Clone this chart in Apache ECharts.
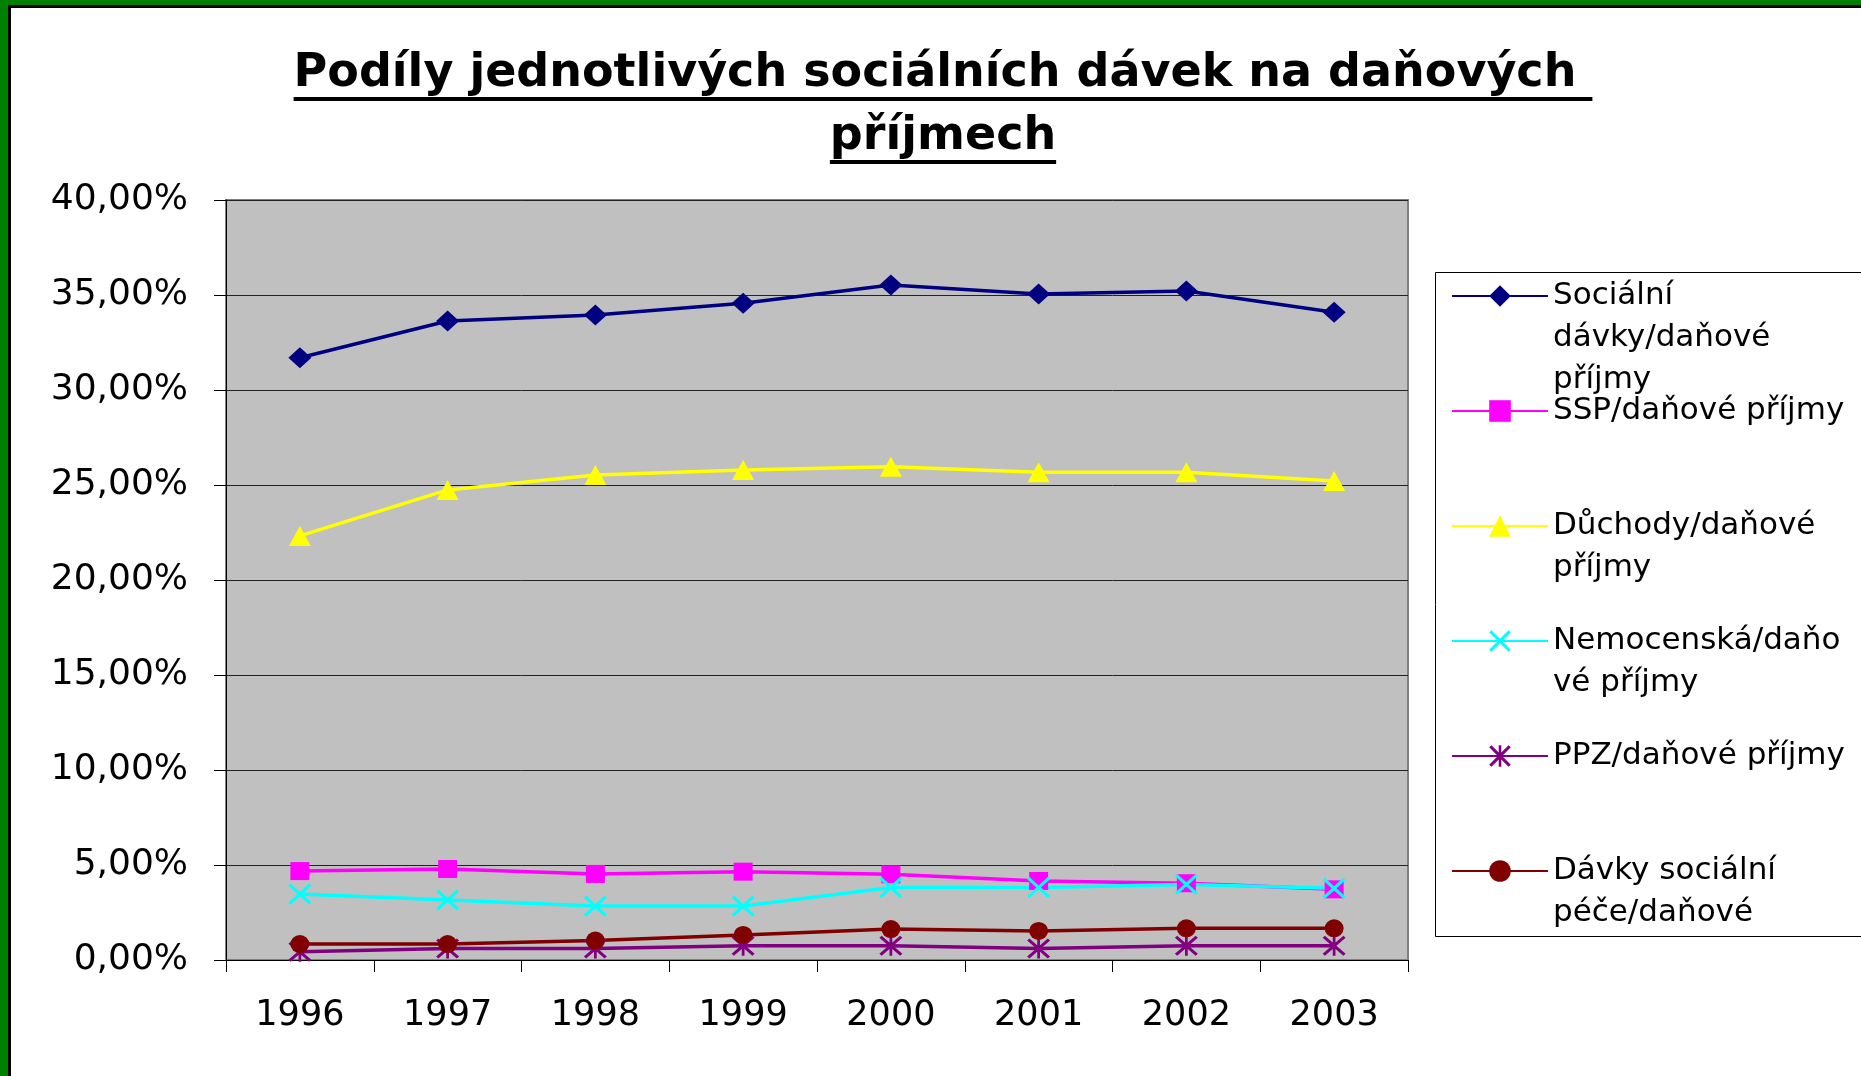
<!DOCTYPE html>
<html>
<head>
<meta charset="utf-8">
<script src="https://cdn.jsdelivr.net/npm/echarts@6/dist/echarts.min.js"></script>
<style>
  html, body { margin: 0; padding: 0; background: #fff; }
  #chart { width: 1861px; height: 1076px; }
</style>
</head>
<body>
<div id="chart"></div>
<script>
// data (percent of tax income)
const years = ['1996', '1997', '1998', '1999', '2000', '2001', '2002', '2003']
const socialBenefits = [31.70, 33.63, 33.95, 34.56, 35.53, 35.05, 35.21, 34.09]
const sspShare = [4.68, 4.79, 4.53, 4.65, 4.51, 4.16, 4.04, 3.72]
const pensionShare = [22.32, 24.74, 25.53, 25.79, 25.96, 25.67, 25.67, 25.21]
const sicknessShare = [3.47, 3.16, 2.84, 2.84, 3.81, 3.81, 3.98, 3.77]
const ppzShare = [0.44, 0.61, 0.61, 0.75, 0.75, 0.61, 0.75, 0.75]
const careShare = [0.84, 0.84, 1.02, 1.32, 1.63, 1.53, 1.67, 1.67]

const seriesNames = [
  'Sociální dávky/daňové příjmy',
  'SSP/daňové příjmy',
  'Důchody/daňové příjmy',
  'Nemocenská/daňové příjmy',
  'PPZ/daňové příjmy',
  'Dávky sociální péče/daňové příjmy'
]
// legend text as wrapped in the picture (last one is cut by the box)
const legendLabels = [
  'Sociální\ndávky/daňové\npříjmy',
  'SSP/daňové příjmy',
  'Důchody/daňové\npříjmy',
  'Nemocenská/daňo\nvé příjmy',
  'PPZ/daňové příjmy',
  'Dávky sociální\npéče/daňové'
]
const titleLines = ['Podíly jednotlivých sociálních dávek na daňových ', 'příjmech']

const FONT = 'DejaVu Sans'
const xMark = 'path://M0,1L1,0L5,4L9,0L10,1L6,5L10,9L9,10L5,6L1,10L0,9L4,5Z'
const starMark = xMark + 'M4.4,0L5.6,0L5.6,10L4.4,10Z'

const chart = echarts.init(document.getElementById('chart'))

// 标题下划线 (echarts title has no underline)
const titleX = 943
const titleTop = 43
const titleSize = 46
const ctx = document.createElement('canvas').getContext('2d')
ctx.font = `bold ${titleSize}px "${FONT}"`
const underlines = titleLines.map((line, i) => {
  const w = ctx.measureText(line).width
  return {
    type: 'rect',
    shape: {x: titleX - w / 2, y: titleTop + 54 + i * 63, width: w, height: 4},
    style: {fill: '#000'}
  }
})

const seriesData = [socialBenefits, sspShare, pensionShare, sicknessShare, ppzShare, careShare]
const colors = ['#000080', '#FF00FF', '#FFFF00', '#00FFFF', '#800080', '#800000']
const symbols = ['diamond', 'rect', 'triangle', xMark, starMark, 'circle']
const symbolSizes = [[23, 21], [19, 18], [22, 20], [23, 21], [23, 20], [19, 18]]

const series = seriesData.map((d, i) => ({
  name: seriesNames[i],
  type: 'line',
  data: d,
  symbol: symbols[i],
  symbolSize: symbolSizes[i],
  showAllSymbol: true,
  lineStyle: {color: colors[i], width: 3.5},
  itemStyle: {color: colors[i], borderWidth: 0},
  emphasis: {disabled: true}
}))

// one legend per item so the first text line sits on the icon
const LINE_H = 42
const legends = seriesNames.map((name, i) => {
  const n = legendLabels[i].split('\n').length
  const center = 296 + i * 115
  return {
    data: [name],
    orient: 'vertical',
    left: 1451,
    top: center - (2 * n - 1) * LINE_H / 2,
    padding: 0,
    itemWidth: 96,
    itemHeight: 27,
    lineStyle: {width: 2},
    selectedMode: false,
    textStyle: {fontFamily: FONT, fontSize: 31, lineHeight: LINE_H, color: '#000'},
    formatter: () => '\n'.repeat(n - 1) + legendLabels[i]
  }
})

const option = {
  animation: false,
  backgroundColor: '#fff',
  title: {
    text: titleLines.join('\n'),
    left: titleX,
    top: titleTop,
    padding: 0,
    textAlign: 'center',
    textStyle: {fontFamily: FONT, fontWeight: 'bold', fontSize: titleSize, lineHeight: 63, color: '#000'}
  },
  legend: legends,
  grid: {
    left: 226, right: 453, top: 200, bottom: 116,
    show: true,
    backgroundColor: '#C0C0C0',
    borderColor: '#808080',
    borderWidth: 2
  },
  xAxis: {
    type: 'category',
    data: years,
    boundaryGap: true,
    axisLine: {lineStyle: {color: '#000', width: 1}},
    axisTick: {show: true, length: 12, lineStyle: {color: '#000'}},
    axisLabel: {fontFamily: FONT, fontSize: 35, color: '#000', margin: 38}
  },
  yAxis: {
    type: 'value',
    min: 0,
    max: 40,
    interval: 5,
    axisLine: {show: true, lineStyle: {color: '#000', width: 1}},
    axisTick: {show: true, length: 12, lineStyle: {color: '#000'}},
    splitLine: {lineStyle: {color: '#222', width: 1}},
    axisLabel: {
      fontFamily: FONT, fontSize: 36, color: '#000', margin: 38,
      formatter: v => v.toFixed(2).replace('.', ',') + '%'
    }
  },
  graphic: [
    // frame: green band top/left with black inner line
    {type: 'rect', shape: {x: 0, y: 0, width: 1861, height: 5}, style: {fill: '#008000'}},
    {type: 'rect', shape: {x: 0, y: 0, width: 8, height: 1076}, style: {fill: '#008000'}},
    {type: 'rect', shape: {x: 8, y: 5, width: 1853, height: 3}, style: {fill: '#000'}},
    {type: 'rect', shape: {x: 8, y: 5, width: 3, height: 1071}, style: {fill: '#000'}},
    // legend box
    {type: 'rect', shape: {x: 1435.5, y: 272.5, width: 600, height: 664}, style: {fill: 'none', stroke: '#000', lineWidth: 1}},
    ...underlines
  ],
  series
}

chart.setOption(option)
</script>
</body>
</html>
